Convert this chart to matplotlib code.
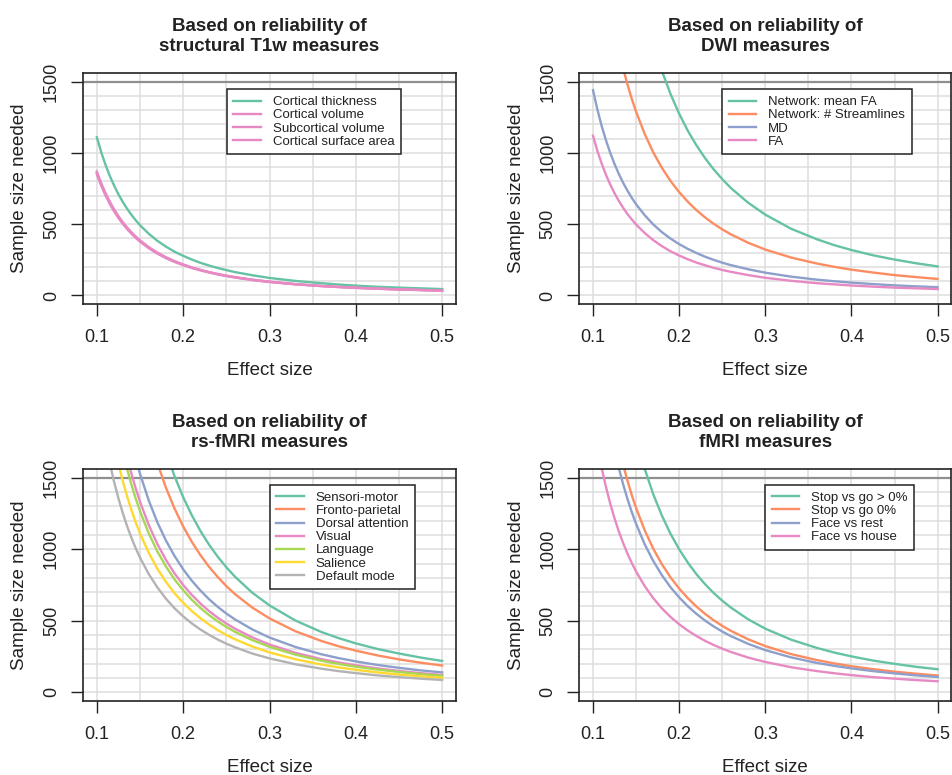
import matplotlib
matplotlib.use('Agg')
import matplotlib.pyplot as plt

plt.rcParams['font.family'] = ['Liberation Sans', 'DejaVu Sans']

effect_size = [0.100, 0.105, 0.110, 0.115, 0.120, 0.125, 0.130, 0.135, 0.140, 0.145,
               0.150, 0.160, 0.170, 0.180, 0.190, 0.200, 0.210, 0.220, 0.230, 0.240,
               0.250, 0.260, 0.280, 0.300, 0.330, 0.360, 0.380, 0.400, 0.425, 0.450,
               0.475, 0.500]

x_ticks = [0.1, 0.2, 0.3, 0.4, 0.5]
x_tick_labels = ['0.1', '0.2', '0.3', '0.4', '0.5']
y_ticks = [0, 500, 1000, 1500]
y_tick_labels = ['0', '500', '1000', '1500']

# structural T1w
t1_labels = ['Cortical thickness', 'Cortical volume', 'Subcortical volume', 'Cortical surface area']
t1_thickness = [1110, 1007, 917, 839, 771, 710, 657, 609, 566, 528, 493, 434, 384, 343, 307, 278,
                252, 229, 210, 193, 178, 164, 142, 123, 102, 86, 77, 69, 61, 55, 50, 45]
t1_volume = [870, 789, 719, 658, 604, 557, 515, 477, 444, 414, 387, 340, 301, 269, 241, 218,
             197, 180, 164, 151, 139, 129, 111, 97, 80, 67, 60, 54, 48, 43, 39, 35]
t1_subcortical = [860, 780, 711, 650, 597, 550, 509, 472, 439, 409, 382, 336, 298, 265, 238, 215,
                  195, 178, 163, 149, 138, 127, 110, 96, 79, 66, 60, 54, 48, 42, 38, 34]
t1_surface = [850, 771, 702, 643, 590, 544, 503, 466, 434, 404, 378, 332, 294, 262, 235, 213,
              193, 176, 161, 148, 136, 126, 108, 94, 78, 66, 59, 53, 47, 42, 38, 34]

# DWI
dwi_labels = ['Network: mean FA', 'Network: # Streamlines', 'MD', 'FA']
dwi_mean_fa = [5100, 4626, 4215, 3856, 3542, 3264, 3018, 2798, 2602, 2426, 2267, 1992, 1765, 1574,
               1413, 1275, 1156, 1054, 964, 885, 816, 754, 651, 567, 468, 394, 353, 319, 282, 252,
               226, 204]
dwi_streamlines = [2900, 2630, 2397, 2193, 2014, 1856, 1716, 1591, 1480, 1379, 1289, 1133, 1003,
                   895, 803, 725, 658, 599, 548, 503, 464, 429, 370, 322, 266, 224, 201, 181, 161,
                   143, 129, 116]
dwi_md = [1440, 1306, 1190, 1089, 1000, 922, 852, 790, 735, 685, 640, 563, 498, 444, 399, 360,
          327, 298, 272, 250, 230, 213, 184, 160, 132, 111, 100, 90, 80, 71, 64, 58]
dwi_fa = [1120, 1016, 926, 847, 778, 717, 663, 615, 571, 533, 498, 438, 388, 346, 310, 280,
          254, 231, 212, 194, 179, 166, 143, 124, 103, 86, 78, 70, 62, 55, 50, 45]

# rs-fMRI
rs_labels = ['Sensori-motor', 'Fronto-parietal', 'Dorsal attention', 'Visual',
             'Language', 'Salience', 'Default mode']
rs_sensorimotor = [5460, 4952, 4512, 4129, 3792, 3494, 3231, 2996, 2786, 2597, 2427, 2133, 1889,
                   1685, 1512, 1365, 1238, 1128, 1032, 948, 874, 808, 696, 607, 501, 421, 378, 341,
                   302, 270, 242, 218]
rs_frontoparietal = [4640, 4209, 3835, 3508, 3222, 2970, 2746, 2546, 2367, 2207, 2062, 1813, 1606,
                     1432, 1285, 1160, 1052, 959, 877, 806, 742, 686, 592, 516, 426, 358, 321, 290,
                     257, 229, 206, 186]
rs_dorsal = [3440, 3120, 2843, 2601, 2389, 2202, 2036, 1888, 1755, 1636, 1529, 1344, 1190, 1062,
             953, 860, 780, 711, 650, 597, 550, 509, 439, 382, 316, 265, 238, 215, 190, 170, 152, 138]
rs_visual = [3000, 2721, 2479, 2268, 2083, 1920, 1775, 1646, 1531, 1427, 1333, 1172, 1038, 926,
             831, 750, 680, 620, 567, 521, 480, 444, 383, 333, 275, 231, 208, 188, 166, 148, 133, 120]
rs_language = [2850, 2585, 2355, 2155, 1979, 1824, 1686, 1564, 1454, 1356, 1267, 1113, 986, 880,
               789, 713, 646, 589, 539, 495, 456, 422, 364, 317, 262, 220, 197, 178, 158, 141, 126, 114]
rs_salience = [2500, 2268, 2066, 1890, 1736, 1600, 1479, 1372, 1276, 1189, 1111, 977, 865, 772,
               693, 625, 567, 517, 473, 434, 400, 370, 319, 278, 230, 193, 173, 156, 138, 123, 111, 100]
rs_default = [2120, 1923, 1752, 1603, 1472, 1357, 1254, 1163, 1082, 1008, 942, 828, 734, 654,
              587, 530, 481, 438, 401, 368, 339, 314, 270, 236, 195, 164, 147, 133, 117, 105, 94, 85]

# task fMRI
fmri_labels = ['Stop vs go > 0%', 'Stop vs go 0%', 'Face vs rest', 'Face vs house']
fmri_stop_gt0 = [4000, 3628, 3306, 3025, 2778, 2560, 2367, 2195, 2041, 1902, 1778, 1563, 1384,
                 1235, 1108, 1000, 907, 826, 756, 694, 640, 592, 510, 444, 367, 309, 277, 250, 221,
                 198, 177, 160]
fmri_stop_0 = [2900, 2630, 2397, 2193, 2014, 1856, 1716, 1591, 1480, 1379, 1289, 1133, 1003,
               895, 803, 725, 658, 599, 548, 503, 464, 429, 370, 322, 266, 224, 201, 181, 161,
               143, 129, 116]
fmri_face_rest = [2650, 2404, 2190, 2004, 1840, 1696, 1568, 1454, 1352, 1260, 1178, 1035, 917,
                  818, 734, 663, 601, 548, 501, 460, 424, 392, 338, 294, 243, 204, 184, 166, 147,
                  131, 117, 106]
fmri_face_house = [1900, 1723, 1570, 1437, 1319, 1216, 1124, 1043, 969, 904, 844, 742, 657, 586,
                   526, 475, 431, 393, 359, 330, 304, 281, 242, 211, 174, 147, 132, 119, 105, 94,
                   84, 76]

GREEN, ORANGE, BLUE, PINK = '#66c2a5', '#fc8d62', '#8da0cb', '#e78ac3'
LIME, YELLOW, GREY = '#a6d854', '#ffd92f', '#b3b3b3'
INK = '#222222'

fig = plt.figure(figsize=(9.53, 7.75), dpi=100)


def draw_panel(rect, title, labels, series, colors, legend_xy):
    ax = fig.add_axes(rect)
    for gx in [0.1, 0.15, 0.2, 0.25, 0.3, 0.35, 0.4, 0.45, 0.5]:
        ax.axvline(gx, color='#dedede', lw=1.1, zorder=0)
    for gy in range(0, 1600, 100):
        ax.axhline(gy, color='#dedede', lw=1.1, zorder=0)
    ax.axhline(1500, color='#8f8f8f', lw=1.6, zorder=1)

    for vals, col, lab in zip(series, colors, labels):
        ax.plot(effect_size, vals, color=col, lw=1.7, label=lab, zorder=2)

    ax.set_xlim(0.084, 0.516)
    ax.set_ylim(-60, 1560)
    ax.set_xticks(x_ticks)
    ax.set_xticklabels(x_tick_labels)
    ax.set_yticks(y_ticks)
    ax.set_yticklabels(y_tick_labels, rotation=90, va='center')
    ax.tick_params(axis='both', length=8.6, width=1, colors=INK, labelsize=13)
    ax.tick_params(axis='x', pad=9.5)
    ax.tick_params(axis='y', pad=8)
    for sp in ax.spines.values():
        sp.set_color(INK)
        sp.set_linewidth(1.2)

    ax.set_title(title, fontsize=13.5, fontweight='bold', color=INK, pad=16)
    ax.set_xlabel('Effect size', fontsize=13.5, color=INK)
    ax.set_ylabel('Sample size needed', fontsize=13.5, color=INK)
    ax.xaxis.set_label_coords(0.5, -0.25)
    ax.yaxis.set_label_coords(-0.147, 0.5)

    leg = ax.legend(loc='upper left', bbox_to_anchor=legend_xy, fontsize=9.5,
                    frameon=True, fancybox=False, framealpha=1, edgecolor=INK,
                    borderaxespad=0, borderpad=0.5, labelspacing=0.07,
                    handlelength=2.1, handletextpad=0.9)
    leg.get_frame().set_linewidth(1.1)
    for t in leg.get_texts():
        t.set_color(INK)
    return ax


draw_panel([0.0871, 0.6077, 0.3914, 0.298],
           'Based on reliability of\nstructural T1w measures', t1_labels,
           [t1_thickness, t1_volume, t1_subcortical, t1_surface],
           [GREEN, PINK, PINK, PINK], (0.385, 0.929))

draw_panel([0.6078, 0.6077, 0.3905, 0.298],
           'Based on reliability of\nDWI measures', dwi_labels,
           [dwi_mean_fa, dwi_streamlines, dwi_md, dwi_fa],
           [GREEN, ORANGE, BLUE, PINK], (0.384, 0.929))

draw_panel([0.0871, 0.0959, 0.3914, 0.2986],
           'Based on reliability of\nrs-fMRI measures', rs_labels,
           [rs_sensorimotor, rs_frontoparietal, rs_dorsal, rs_visual,
            rs_language, rs_salience, rs_default],
           [GREEN, ORANGE, BLUE, PINK, LIME, YELLOW, GREY], (0.5, 0.932))

draw_panel([0.6078, 0.0959, 0.3905, 0.2986],
           'Based on reliability of\nfMRI measures', fmri_labels,
           [fmri_stop_gt0, fmri_stop_0, fmri_face_rest, fmri_face_house],
           [GREEN, ORANGE, BLUE, PINK], (0.499, 0.932))

fig.savefig('out.png', dpi=100)
